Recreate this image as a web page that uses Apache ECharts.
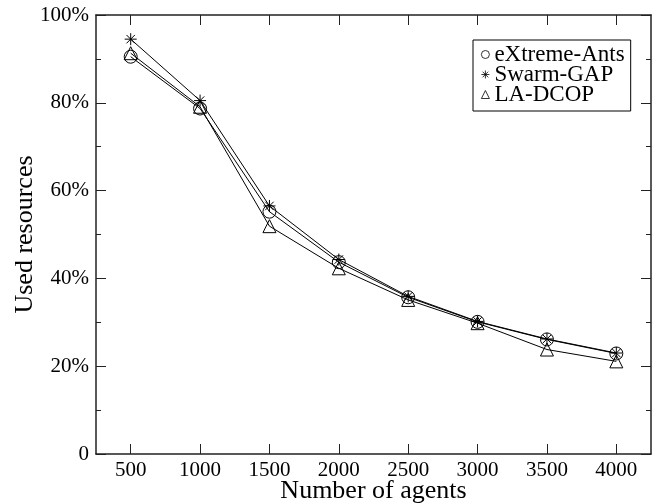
<!DOCTYPE html>
<html>
<head>
<meta charset="utf-8">
<script src="https://cdn.jsdelivr.net/npm/echarts@6/dist/echarts.min.js"></script>
<style>
  html, body { margin: 0; padding: 0; background: #fff; }
  #chart { width: 669px; height: 504px; }
</style>
</head>
<body>
<div id="chart"></div>
<script>
// data
var agents = ['500', '1000', '1500', '2000', '2500', '3000', '3500', '4000'];
var extremeAnts = [90.5, 78.7, 55.2, 43.7, 35.7, 30.1, 26.1, 22.9];
var swarmGap = [94.5, 80.5, 56.5, 44.3, 35.9, 30.2, 26.2, 23.0];
var laDcop = [91.3, 79.1, 51.9, 42.3, 35.1, 29.8, 23.8, 21.1];

var font = "'Liberation Serif', 'Times New Roman', serif";
var starPath = 'path://M10,0 L10,20 M0,10 L20,10 M3,3 L17,17 M3,17 L17,3';

function makeSeries(name, data, symbol, size) {
  return {
    name: name,
    type: 'line',
    data: data,
    symbol: symbol,
    symbolSize: size,
    showAllSymbol: true,
    animation: false,
    lineStyle: { color: '#000', width: 1 },
    itemStyle: { color: 'transparent', borderColor: '#000', borderWidth: 1 }
  };
}

function axisLine() {
  return { show: true, onZero: false, lineStyle: { color: '#222', width: 1.5 } };
}
function ticks() {
  return { show: true, inside: true, length: 10, alignWithLabel: true, lineStyle: { color: '#222', width: 1 } };
}
function minor() {
  return { show: true, splitNumber: 2, length: 5, lineStyle: { color: '#222', width: 1 } };
}

var chart = echarts.init(document.getElementById('chart'));
chart.setOption({
  backgroundColor: '#fff',
  textStyle: { fontFamily: font },
  grid: { left: 96, right: 18, top: 15, bottom: 50, containLabel: false, outerBoundsMode: 'none' },
  legend: {
    left: 473,
    top: 40,
    orient: 'vertical',
    padding: [3, 6, 5, 8],
    itemGap: -3,
    itemWidth: 8,
    itemHeight: 8,
    borderColor: '#000',
    borderWidth: 1,
    backgroundColor: '#fff',
    itemStyle: { color: 'transparent', borderColor: '#000', borderWidth: 0.8 },
    textStyle: { fontFamily: font, fontSize: 23, color: '#000', lineHeight: 20 },
    data: [
      { name: 'eXtreme-Ants', icon: 'circle' },
      { name: 'Swarm-GAP', icon: starPath },
      { name: 'LA-DCOP', icon: 'triangle' }
    ]
  },
  xAxis: [{
    type: 'category',
    data: agents,
    boundaryGap: true,
    position: 'bottom',
    name: 'Number of agents',
    nameLocation: 'middle',
    nameGap: 24,
    nameMoveOverlap: false,
    nameTextStyle: { fontFamily: font, fontSize: 26, color: '#000' },
    axisLine: axisLine(),
    axisTick: ticks(),
    axisLabel: { fontFamily: font, fontSize: 21, color: '#000', margin: 6 },
    splitLine: { show: false }
  }, {
    type: 'category',
    data: agents,
    boundaryGap: true,
    position: 'top',
    axisLine: axisLine(),
    axisTick: ticks(),
    axisLabel: { show: false },
    splitLine: { show: false }
  }],
  yAxis: [{
    type: 'value',
    min: 0,
    max: 100,
    interval: 20,
    position: 'left',
    name: 'Used resources',
    nameLocation: 'middle',
    nameGap: 58,
    nameMoveOverlap: false,
    nameTextStyle: { fontFamily: font, fontSize: 26, color: '#000' },
    axisLine: axisLine(),
    axisTick: ticks(),
    minorTick: minor(),
    axisLabel: {
      fontFamily: font, fontSize: 21, color: '#000', margin: 7,
      formatter: function (v) { return v === 0 ? '0' : v + '%'; }
    },
    splitLine: { show: false }
  }, {
    type: 'value',
    min: 0,
    max: 100,
    interval: 20,
    position: 'right',
    axisLine: axisLine(),
    axisTick: ticks(),
    minorTick: minor(),
    axisLabel: { show: false },
    splitLine: { show: false }
  }],
  series: [
    makeSeries('eXtreme-Ants', extremeAnts, 'circle', 13),
    makeSeries('Swarm-GAP', swarmGap, starPath, 12),
    makeSeries('LA-DCOP', laDcop, 'triangle', 13)
  ]
});
</script>
</body>
</html>
